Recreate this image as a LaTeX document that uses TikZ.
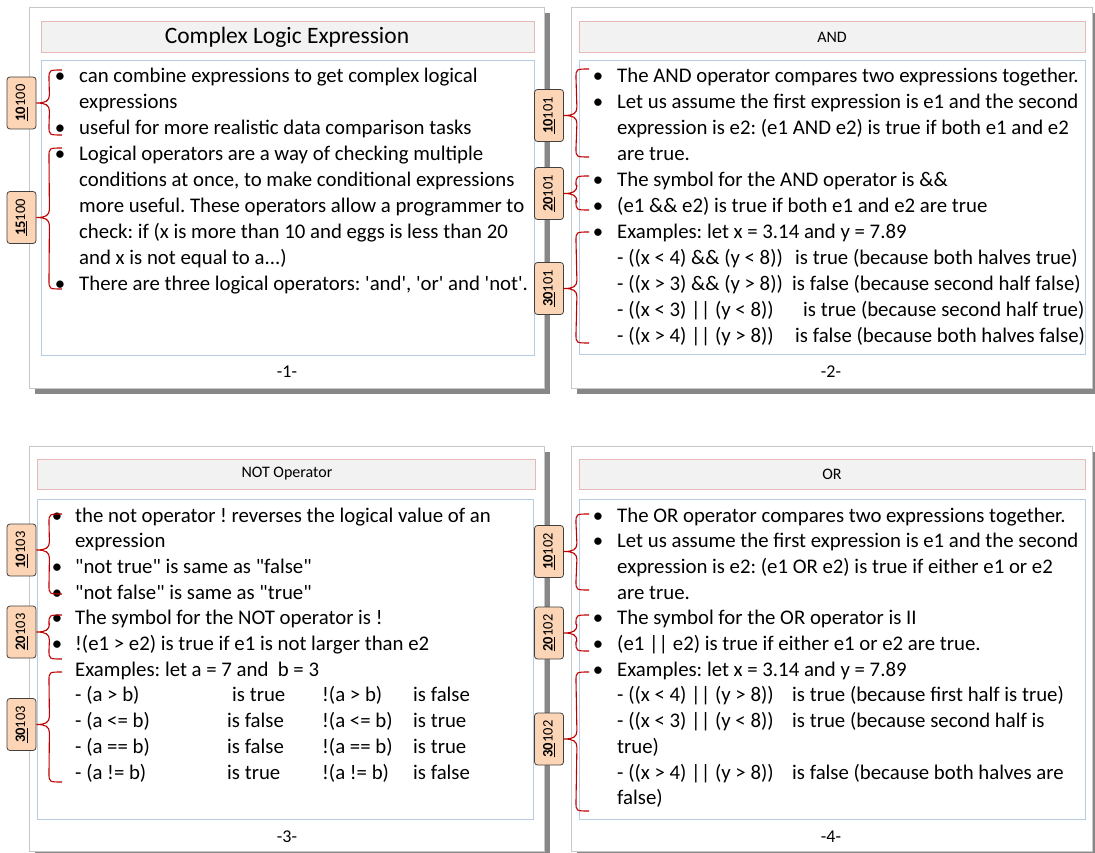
\documentclass[tikz,border=0pt]{standalone}
\usepackage{fontspec}
\usepackage{graphicx}
\setmainfont{Carlito}[Ligatures=TeXOff]
\usetikzlibrary{calc}
\frenchspacing

\definecolor{framegray}{HTML}{C8C8C8}
\definecolor{shadowgray}{HTML}{878787}
\definecolor{titlepink}{HTML}{E6B8B7}
\definecolor{titlefill}{HTML}{F2F2F2}
\definecolor{contentblue}{HTML}{B8CCE4}
\definecolor{tagfill}{HTML}{FBD5B5}
\definecolor{tagborder}{HTML}{404040}
\definecolor{bracered}{HTML}{C00000}

% curly brace from the top end (#2) to the tag's east side (#1) and down to the bottom end (#3)
\newcommand\tagbrace[3]{%
  \draw[brc] (#2) .. controls +(-13,0) and +(0,-9) .. ($(#2)+(-13,9)$)
    -- ($(#1.east)+(13,-8)$) .. controls +(0,6) and +(9,0) .. (#1.east)
    .. controls +(9,0) and +(0,-6) .. ($(#1.east)+(13,8)$)
    -- ($(#3)+(-13,-9)$) .. controls +(0,9) and +(-13,0) .. (#3);}

\begin{document}
\begin{tikzpicture}[x=1pt,y=-1pt,
  frame/.style={draw=framegray,fill=white,line width=0.8pt},
  shadow/.style={fill=shadowgray,draw=none},
  titlebar/.style={draw=titlepink,fill=titlefill,line width=0.8pt},
  contentbox/.style={draw=contentblue,fill=white,line width=0.8pt},
  tag/.style={draw=tagborder,fill=tagfill,rounded corners=3pt,line width=0.8pt,
    minimum width=29pt,minimum height=52pt,inner sep=0pt,
    font=\fontsize{14.5}{16}\selectfont},
  brc/.style={draw=bracered,line width=1.1pt},
  body/.style={anchor=base west,inner sep=0pt,font=\fontsize{20.8}{25}\selectfont},
  bul/.style={anchor=base,inner sep=0pt,font=\fontsize{20.8}{25}\selectfont},
  ttl/.style={inner sep=0pt,font=\fontsize{16}{18}\selectfont},
  bigttl/.style={inner sep=0pt,font=\fontsize{23.5}{26}\selectfont},
  pgnum/.style={inner sep=0pt,font=\fontsize{18}{20}\selectfont}]
\useasboundingbox (0,0) rectangle (1095,853);

% ---------------- slide frames ----------------
\fill[shadow] (35,13) rectangle (550,394);
\draw[frame] (29,7) rectangle (544,388);
\draw[titlebar] (41,21) rectangle (534,52);
\draw[contentbox] (41,60) rectangle (534,355);

\fill[shadow] (577,13) rectangle (1098,394);
\draw[frame] (571,7) rectangle (1092,388);
\draw[titlebar] (579,21) rectangle (1085,52);
\draw[contentbox] (579,60) rectangle (1085,354);

\fill[shadow] (35,452) rectangle (550,857);
\draw[frame] (29,446) rectangle (544,851);
\draw[titlebar] (37,459) rectangle (535,489);
\draw[contentbox] (37,499) rectangle (533,819);

\fill[shadow] (577,452) rectangle (1098,857);
\draw[frame] (571,446) rectangle (1092,851);
\draw[titlebar] (579,459) rectangle (1085,489);
\draw[contentbox] (579,499) rectangle (1085,819);

% ---------------- titles and page numbers ----------------
\node[bigttl] (h1) at (287,37) {Complex Logic Expression};
\node[ttl] (h2) at (832,37) {AND};
\node[ttl] (h3) at (287,474) {NOT Operator};
\node[ttl] (h4) at (832,474) {OR};
\node[pgnum] (n1) at (287,372) {-1-};
\node[pgnum] (n2) at (831,372) {-2-};
\node[pgnum] (n3) at (287,837) {-3-};
\node[pgnum] (n4) at (831,837) {-4-};

% ---------------- slide 1 ----------------
\node[bul] (a0b) at (60,83) {•};
\node[body] (a0) at (79,83) {can combine expressions to get complex logical};
\node[body] (a1) at (79,108.9) {expressions};
\node[bul] (a2b) at (60,134.8) {•};
\node[body] (a2) at (79,134.8) {useful for more realistic data comparison tasks};
\node[bul] (a3b) at (60,160.7) {•};
\node[body] (a3) at (79,160.7) {Logical operators are a way of checking multiple};
\node[body] (a4) at (79,186.6) {conditions at once, to make conditional expressions};
\node[body] (a5) at (79,212.5) {more useful. These operators allow a programmer to};
\node[body] (a6) at (79,238.4) {check: if (x is more than 10 and eggs is less than 20};
\node[body] (a7) at (79,264.3) {and x is not equal to a...)};
\node[bul] (a8b) at (60,290.2) {•};
\node[body] (a8) at (79,290.2) {There are three logical operators: 'and', 'or' and 'not'.};

% ---------------- slide 2 ----------------
\node[bul] (b0b) at (598,83) {•};
\node[body] (b0) at (617,83) {The AND operator compares two expressions together.};
\node[bul] (b1b) at (598,108.9) {•};
\node[body] (b1) at (617,108.9) {Let us assume the first expression is e1 and the second};
\node[body] (b2) at (617,134.8) {expression is e2: (e1 AND e2) is true if both e1 and e2};
\node[body] (b3) at (617,160.7) {are true.};
\node[bul] (b4b) at (598,186.6) {•};
\node[body] (b4) at (617,186.6) {The symbol for the AND operator is \&\&};
\node[bul] (b5b) at (598,212.5) {•};
\node[body] (b5) at (617,212.5) {(e1 \&\& e2) is true if both e1 and e2 are true};
\node[bul] (b6b) at (598,238.4) {•};
\node[body] (b6) at (617,238.4) {Examples: let x = 3.14 and y = 7.89};
\node[body] (b7) at (617,264.3) {- ((x < 4) \&\& (y < 8))};
\node[body] (b7r) at (795,264.3) {is true (because both halves true)};
\node[body] (b8) at (617,290.2) {- ((x > 3) \&\& (y > 8))};
\node[body] (b8r) at (792,290.2) {is false (because second half false)};
\node[body] (b9) at (617,316.1) {- ((x < 3) || (y < 8))};
\node[body] (b9r) at (803,316.1) {is true (because second half true)};
\node[body] (b10) at (617,342) {- ((x > 4) || (y > 8))};
\node[body] (b10r) at (795,342) {is false (because both halves false)};

% ---------------- slide 3 ----------------
\node[bul] (c0b) at (57,522) {•};
\node[body] (c0) at (75,522) {the not operator ! reverses the logical value of an};
\node[body] (c1) at (75,547.7) {expression};
\node[bul] (c2b) at (57,573.4) {•};
\node[body] (c2) at (75,573.4) {"not true" is same as "false"};
\node[bul] (c3b) at (57,599.1) {•};
\node[body] (c3) at (75,599.1) {"not false" is same as "true"};
\node[bul] (c4b) at (57,624.8) {•};
\node[body] (c4) at (75,624.8) {The symbol for the NOT operator is !};
\node[bul] (c5b) at (57,650.5) {•};
\node[body] (c5) at (75,650.5) {!(e1 > e2) is true if e1 is not larger than e2};
\node[body] (c6) at (75,676.2) {Examples: let a = 7 and~~b = 3};
\node[body] (c7) at (75,701.9) {- (a > b)};
\node[body] (c7a) at (232,701.9) {is true};
\node[body] (c7b) at (322,701.9) {!(a > b)};
\node[body] (c7c) at (413,701.9) {is false};
\node[body] (c8) at (75,727.6) {- (a <= b)};
\node[body] (c8a) at (227,727.6) {is false};
\node[body] (c8b) at (322,727.6) {!(a <= b)};
\node[body] (c8c) at (413,727.6) {is true};
\node[body] (c9) at (75,753.3) {- (a == b)};
\node[body] (c9a) at (227,753.3) {is false};
\node[body] (c9b) at (322,753.3) {!(a == b)};
\node[body] (c9c) at (413,753.3) {is true};
\node[body] (c10) at (75,779) {- (a != b)};
\node[body] (c10a) at (227,779) {is true};
\node[body] (c10b) at (322,779) {!(a != b)};
\node[body] (c10c) at (413,779) {is false};

% ---------------- slide 4 ----------------
\node[bul] (d0b) at (598,522) {•};
\node[body] (d0) at (617,522) {The OR operator compares two expressions together.};
\node[bul] (d1b) at (598,547.7) {•};
\node[body] (d1) at (617,547.7) {Let us assume the first expression is e1 and the second};
\node[body] (d2) at (617,573.4) {expression is e2: (e1 OR e2) is true if either e1 or e2};
\node[body] (d3) at (617,599.1) {are true.};
\node[bul] (d4b) at (598,624.8) {•};
\node[body] (d4) at (617,624.8) {The symbol for the OR operator is II};
\node[bul] (d5b) at (598,650.5) {•};
\node[body] (d5) at (617,650.5) {(e1 || e2) is true if either e1 or e2 are true.};
\node[bul] (d6b) at (598,676.2) {•};
\node[body] (d6) at (617,676.2) {Examples: let x = 3.14 and y = 7.89};
\node[body] (d7) at (617,701.9) {- ((x < 4) || (y > 8))};
\node[body] (d7r) at (792,701.9) {is true (because first half is true)};
\node[body] (d8) at (617,727.6) {- ((x < 3) || (y < 8))};
\node[body] (d8r) at (792,727.6) {is true (because second half is};
\node[body] (d9) at (617,753.3) {true)};
\node[body] (d10) at (617,779) {- ((x > 4) || (y > 8))};
\node[body] (d10r) at (792,779) {is false (because both halves are};
\node[body] (d11) at (617,804.7) {false)};

% ---------------- tags ----------------
\node[tag] (t1) at (21.5,103) {\rotatebox{90}{\underline{\textbf{10}}100}};
\node[tag] (t2) at (21.5,217.5) {\rotatebox{90}{\underline{\textbf{15}}100}};
\node[tag] (t3) at (549,115.5) {\rotatebox{90}{\underline{\textbf{10}}101}};
\node[tag] (t4) at (549,193.5) {\rotatebox{90}{\underline{\textbf{20}}101}};
\node[tag] (t5) at (549,288.5) {\rotatebox{90}{\underline{\textbf{30}}101}};
\node[tag] (t6) at (21.5,550) {\rotatebox{90}{\underline{\textbf{10}}103}};
\node[tag] (t7) at (21.5,632) {\rotatebox{90}{\underline{\textbf{20}}103}};
\node[tag] (t8) at (21.5,724.5) {\rotatebox{90}{\underline{\textbf{30}}103}};
\node[tag] (t9) at (549,551.5) {\rotatebox{90}{\underline{\textbf{10}}102}};
\node[tag] (t10) at (549,633) {\rotatebox{90}{\underline{\textbf{20}}102}};
\node[tag] (t11) at (549,739) {\rotatebox{90}{\underline{\textbf{30}}102}};

% ---------------- braces ----------------
\coordinate (e1t) at (62,70);   \coordinate (e1b) at (62,135);
\coordinate (e2t) at (62,148);  \coordinate (e2b) at (62,289);
\coordinate (e3t) at (589,69);  \coordinate (e3b) at (589,157);
\coordinate (e4t) at (589,176); \coordinate (e4b) at (589,210);
\coordinate (e5t) at (589,232); \coordinate (e5b) at (589,343);
\coordinate (e6t) at (62,514);  \coordinate (e6b) at (62,594);
\coordinate (e7t) at (62,615);  \coordinate (e7b) at (62,659);
\coordinate (e8t) at (62,672);  \coordinate (e8b) at (62,782);
\coordinate (e9t) at (589,514); \coordinate (e9b) at (589,590);
\coordinate (e10t) at (589,615); \coordinate (e10b) at (589,651);
\coordinate (e11t) at (589,672); \coordinate (e11b) at (589,811);
\tagbrace{t1}{e1t}{e1b}
\tagbrace{t2}{e2t}{e2b}
\tagbrace{t3}{e3t}{e3b}
\tagbrace{t4}{e4t}{e4b}
\tagbrace{t5}{e5t}{e5b}
\tagbrace{t6}{e6t}{e6b}
\tagbrace{t7}{e7t}{e7b}
\tagbrace{t8}{e8t}{e8b}
\tagbrace{t9}{e9t}{e9b}
\tagbrace{t10}{e10t}{e10b}
\tagbrace{t11}{e11t}{e11b}
\end{tikzpicture}
\end{document}
